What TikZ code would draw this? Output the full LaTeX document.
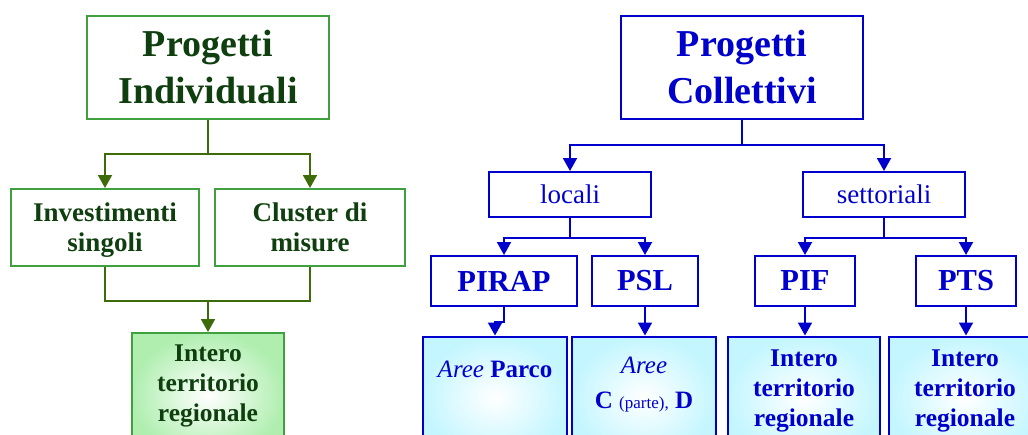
\documentclass[tikz,border=0pt]{standalone}
\usepackage{fontspec}
\setmainfont{Liberation Serif}
\usetikzlibrary{arrows.meta,calc}
\definecolor{gbox}{HTML}{40A040}
\definecolor{gline}{HTML}{3D6B0A}
\definecolor{gtext}{HTML}{0F3F0F}
\definecolor{bcol}{HTML}{0000CC}
\definecolor{cyanout}{HTML}{C4F6FF}
\definecolor{greenout}{HTML}{B0EEB0}
\begin{document}
\begin{tikzpicture}[x=1pt,y=-1pt,
  gnode/.style={draw=gbox,line width=2pt,fill=white,text=gtext,align=center,inner sep=0pt},
  bnode/.style={draw=bcol,line width=2pt,fill=white,text=bcol,align=center,inner sep=0pt},
  gshade/.style={draw=gbox,line width=2pt,text=gtext,align=center,inner sep=0pt,shading=radial,inner color=white,outer color=greenout},
  bshade/.style={draw=bcol,line width=2pt,text=bcol,align=center,inner sep=0pt,shading=radial,inner color=white,outer color=cyanout},
  garr/.style={draw=gline,line width=2pt,-{Triangle[width=14pt,length=13pt]}},
  gln/.style={draw=gline,line width=2pt},
  barr/.style={draw=bcol,line width=2pt,-{Triangle[width=14pt,length=13pt]}},
  titlefont/.style={font=\fontsize{38}{47}\selectfont\bfseries},
  midfont/.style={font=\fontsize{27}{30}\selectfont\bfseries},
  pfont/.style={font=\fontsize{30.5}{34}\selectfont\bfseries},
  regfont/.style={font=\fontsize{27}{30}\selectfont},
  terrfont/.style={font=\fontsize{25.5}{30}\selectfont\bfseries}
]
\useasboundingbox[fill=white] (0,0) rectangle (1028,434);

% ---------- left: Progetti Individuali ----------
\node[gnode,titlefont,minimum width=242pt,minimum height=103pt] (PI) at (208,67.5) {Progetti\\Individuali};
\node[gnode,midfont,minimum width=188pt,minimum height=77pt] (IS) at (105,227.5) {\rule{0pt}{23pt}Investimenti\\singoli};
\node[gnode,midfont,minimum width=190pt,minimum height=77pt] (CM) at (310,227.5) {\rule{0pt}{23pt}Cluster di\\misure\vphantom{g}};
\node[gshade,shade,terrfont,anchor=north,minimum width=152pt,inner ysep=12pt] (IT) at (208,332) {Intero\\territorio\\regionale\rule[-23pt]{0pt}{0pt}};

\draw[garr] (PI.south) -- ++(0,34) -| (IS.north);
\draw[garr] (PI.south) -- ++(0,34) -| (CM.north);
\path (IS.south) ++(0,34) coordinate (ljy);
\draw[gln] (IS.south) -- (ljy) -| (CM.south);
\draw[garr] (IT.north |- ljy) -- (IT.north);

% ---------- right: Progetti Collettivi ----------
\node[bnode,titlefont,minimum width=242pt,minimum height=103pt] (PC) at (742,67.5) {Progetti\\Collettivi};
\node[bnode,regfont,minimum width=162pt,minimum height=45pt] (LOC) at (570,194.5) {locali};
\node[bnode,regfont,minimum width=162pt,minimum height=45pt] (SET) at (884,194.5) {settoriali};
\node[bnode,pfont,minimum width=146pt,minimum height=50pt] (PIRAP) at (504,281) {PIRAP};
\node[bnode,pfont,minimum width=106pt,minimum height=50pt] (PSL) at (645,281) {PSL};
\node[bnode,pfont,minimum width=100pt,minimum height=50pt] (PIF) at (805,281) {PIF};
\node[bnode,pfont,minimum width=100pt,minimum height=50pt] (PTS) at (966,281) {PTS};

\node[bshade,shade,font=\fontsize{25}{30}\selectfont,anchor=north,minimum width=144pt,inner ysep=24pt] (AP) at (495,335.5)
  {\textit{Aree} \textbf{Parco}\rule[-57pt]{0pt}{0pt}};
\node[bshade,shade,font=\fontsize{25}{35}\selectfont,anchor=north,minimum width=144pt,inner ysep=20pt] (AC) at (644,335.5)
  {\textit{Aree}\\\textbf{C} {\fontsize{17}{17}\selectfont(parte),} \textbf{D}\rule[-31pt]{0pt}{0pt}};
\node[bshade,shade,terrfont,anchor=north,minimum width=152pt,inner ysep=13pt] (IT1) at (804,335.5)
  {Intero\\territorio\\regionale\rule[-21pt]{0pt}{0pt}};
\node[bshade,shade,terrfont,anchor=north,minimum width=152pt,inner ysep=13pt] (IT2) at (965,335.5)
  {Intero\\territorio\\regionale\rule[-21pt]{0pt}{0pt}};

\draw[barr] (PC.south) -- ++(0,25) -| (LOC.north);
\draw[barr] (PC.south) -- ++(0,25) -| (SET.north);
\draw[barr] (LOC.south) -- ++(0,20) -| (PIRAP.north);
\draw[barr] (LOC.south) -- ++(0,20) -| (PSL.north);
\draw[barr] (SET.south) -- ++(0,20) -| (PIF.north);
\draw[barr] (SET.south) -- ++(0,20) -| (PTS.north);
\draw[barr] (PIRAP.south) -- ++(0,15) -| (AP.north);
\draw[barr] (PSL.south) -- (PSL.south |- AC.north);
\draw[barr] (PIF.south) -- (PIF.south |- IT1.north);
\draw[barr] (PTS.south) -- (PTS.south |- IT2.north);
\end{tikzpicture}
\end{document}
